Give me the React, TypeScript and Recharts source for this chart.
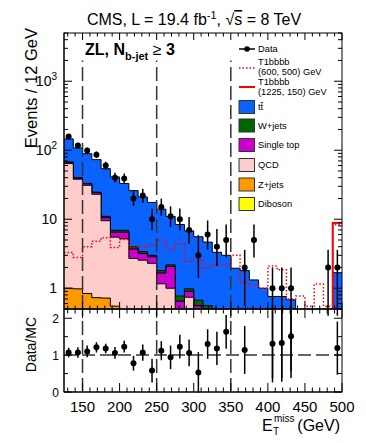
import React from "react";
import {
  ComposedChart,
  Area,
  Line,
  Scatter,
  ErrorBar,
  XAxis,
  YAxis,
  ReferenceLine,
} from "recharts";

// MET bins (low edges, 12.5 GeV wide, last edge 500)
const binLow = [
  125, 137.5, 150, 162.5, 175, 187.5, 200, 212.5, 225, 237.5, 250, 262.5, 275,
  287.5, 300, 312.5, 325, 337.5, 350, 362.5, 375, 387.5, 400, 412.5, 425,
  437.5, 450, 462.5, 475, 487.5,
];
const lastEdge = 500;

// observed events (null = empty bin)
const dataCounts = [
  158, 117, 99, 86, 60, 40, 39, 20, 22, 10, 15, 11, 10, 7, 3, 6, 4, 5, null, 2,
  5, null, 1, 1, 1, null, null, null, 2, 2,
];
const dataErrLow = [
  13, 11, 10, 9, 8, 6, 6, 4.4, 4.6, 3.1, 3.8, 3.3, 3.1, 2.6, 1.6, 2.4, 1.9, 2.2,
  null, 1.45, 2.2, null, 0.95, 0.95, 0.95, null, null, null, 1.6, 1.6,
];
const dataErrHigh = [
  13, 11, 10, 10, 8, 7, 7, 5.5, 5.7, 4.3, 4.9, 4.4, 4.3, 3.8, 2.9, 3.6, 3.2,
  3.4, null, 1.6, 3.4, null, 1.0, 1.0, 1.0, null, null, null, 1.6, 1.6,
];

// backgrounds, stacked bottom -> top
const diboson = [
  0.03, 0.03, 0.02, 0.02, 0.02, 0.02, 0.02, 0.01, 0.01, 0.01, 0.01, 0.01, 0.01,
  0.01, 0.01, 0.01, 0.01, 0.01, 0.01, 0.01, 0.01, 0.01, 0.01, 0.01, 0.01, 0.01,
  0.01, 0.01, 0.01, 0.02,
];
const zJets = [
  0.97, 0.95, 0.82, 0.71, 0.7, 0.53, 0.43, 0.39, 0.34, 0.29, 0.24, 0.19, 0.14,
  0.11, 0.09, 0.07, 0.06, 0.05, 0.04, 0.04, 0.03, 0.03, 0.02, 0.02, 0.02, 0.01,
  0.01, 0.01, 0.01, 0.03,
];
const qcd = [
  63, 37, 30.2, 22.3, 8.8, 4.95, 4.75, 2.3, 2.2, 2.0, 0.91, 0.8, 0.3, 0.62, 0.3,
  0.22, 0.18, 0.14, 0.13, 0.1, 0.08, 0.06, 0.05, 0.05, 0.04, 0.04, 0.03, 0.03,
  0.02, 0.1,
];
const singleTop = [
  3, 1.5, 1.5, 1.2, 1.0, 1.0, 1.3, 1.0, 0.65, 0.55, 0.5, 1.07, 0.2, 0.16, 0.16,
  0.15, 0.1, 0.1, 0.07, 0.07, 0.08, 0.08, 0.07, 0.05, 0.05, 0.04, 0.03, 0.02,
  0.02, 0.1,
];
const wJets = [
  0.5, 0.5, 0.5, 0.4, 0.5, 0.4, 0.4, 0.3, 0.2, 0.15, 0.14, 0.11, 0.12, 0.08,
  0.11, 0.11, 0.07, 0.05, 0.05, 0.05, 0.04, 0.02, 0.03, 0.03, 0.02, 0.02, 0.02,
  0.02, 0.02, 0.05,
];
const ttbar = [
  78.5, 68, 56, 48.4, 43, 34.1, 26.1, 22, 17.6, 14.5, 12.2, 8.8, 7.6, 5.8, 4.9,
  4.1, 2.9, 2.65, 1.65, 1.53, 1.08, 0.8, 0.58, 0.6, 0.54, 0.33, 0.3, 0.26, 0.22,
  1.38,
];

// signal models
const t1bbbb600 = [
  3.3, 2.8, 4.0, 4.8, 5.4, 3.9, 5.1, 4.0, 4.0, 4.2, 5.0, 3.6, 4.4, 2.45, 2.6,
  2.0, 2.2, 2.2, 3.0, 1.2, 1.1, 1.0, 2.1, 1.85, 0.7, 0.77, 0.55, 1.15, 0.55,
  8.3,
];
const t1bbbb1225 = [
  0.02, 0.02, 0.02, 0.03, 0.03, 0.03, 0.04, 0.04, 0.05, 0.05, 0.06, 0.06, 0.07,
  0.08, 0.08, 0.09, 0.1, 0.1, 0.12, 0.12, 0.14, 0.15, 0.16, 0.18, 0.2, 0.22,
  0.25, 0.27, 0.3, 8.8,
];

// Data/MC ratio
const ratioValues = [
  1.07, 1.07, 1.1, 1.21, 1.18, 1.06, 1.23, 0.78, 1.07, 0.58, 1.12, 0.94, 1.23,
  1.06, 0.53, 1.3, 1.18, 1.63, null, 1.14, null, null, 1.31, 1.33, 1.51, null,
  null, null, null, 1.19,
];
const ratioErr = [
  0.13, 0.14, 0.16, 0.14, 0.13, 0.16, 0.16, 0.2, 0.22, 0.32, 0.26, 0.32, 0.32,
  0.36, 0.55, 0.4, 0.45, 0.46, null, 0.65, null, null, 1.05, 1.05, 0.95, null,
  null, null, null, 0.72,
];

const xAllTicks = Array.from({ length: 38 }, (_, i) => 130 + i * 10);
const logTicks = [
  0.5, 0.6, 0.7, 0.8, 0.9, 1, 2, 3, 4, 5, 6, 7, 8, 9, 10, 20, 30, 40, 50, 60,
  70, 80, 90, 100, 200, 300, 400, 500, 600, 700, 800, 900, 1000, 2000, 3000,
  4000, 5000,
];
const ratioTicks = [0, 0.5, 1, 1.5, 2];
const cutLines = [150, 250, 350];

const colors = {
  tt: "#0a62ff",
  w: "#006600",
  st: "#cc00cc",
  qcd: "#ffcccc",
  z: "#ff9900",
  vv: "#ffff00",
  signal: "#ff0000",
};

const FONT = "'Liberation Sans', Arial, Helvetica, sans-serif";
const W = 366;
const H = 443;
const PLOT_LEFT = 64;
const PLOT_RIGHT = 342;
const TOP_Y = 33;
const SPLIT_Y = 309;
const BOTTOM_Y = 392;

const rows = binLow.map((x, i) => {
  const vv = diboson[i];
  const z = vv + zJets[i];
  const q = z + qcd[i];
  const st = q + singleTop[i];
  const w = st + wJets[i];
  const tt = w + ttbar[i];
  return { x, vv, z, q, st, w, tt, s1: t1bbbb600[i], s2: t1bbbb1225[i] };
});
rows.push({ ...rows[rows.length - 1], x: lastEdge });

const dataPoints = binLow
  .map((x, i) => ({
    x: x + 6.25,
    y: dataCounts[i],
    err: [dataErrLow[i], dataErrHigh[i]],
  }))
  .filter((p) => p.y !== null);

const ratioPoints = binLow
  .map((x, i) => ({ x: x + 6.25, y: ratioValues[i], err: ratioErr[i] }))
  .filter((p) => p.y !== null);

const TopXTick = (props: any) => {
  const { x, y, payload } = props;
  const len = payload.value % 50 === 0 ? 7 : 3.5;
  return (
    <g>
      <line x1={x} x2={x} y1={y} y2={y - len} stroke="#000" />
      <line x1={x} x2={x} y1={TOP_Y} y2={TOP_Y + len} stroke="#000" />
    </g>
  );
};

const RatioXTick = (props: any) => {
  const { x, y, payload } = props;
  const major = payload.value % 50 === 0;
  const len = major ? 9 : 4.5;
  return (
    <g>
      <line x1={x} x2={x} y1={y} y2={y - len} stroke="#000" />
      <line x1={x} x2={x} y1={SPLIT_Y} y2={SPLIT_Y + len} stroke="#000" />
      {major && (
        <text
          x={x}
          y={y + 19.5}
          textAnchor="middle"
          fontSize={15}
          fontFamily={FONT}
          fill="#000"
        >
          {payload.value}
        </text>
      )}
    </g>
  );
};

const LogYTick = (props: any) => {
  const { x, y, payload } = props;
  const v = payload.value;
  const exp = Math.round(Math.log10(v));
  const major = Math.abs(Math.log10(v) - exp) < 1e-6;
  const len = major ? 8 : 4;
  return (
    <g>
      <line x1={x} x2={x + len} y1={y} y2={y} stroke="#000" />
      <line x1={PLOT_RIGHT} x2={PLOT_RIGHT - len} y1={y} y2={y} stroke="#000" />
      {major && (
        <text
          x={x - 7}
          y={y + 5}
          textAnchor="end"
          fontSize={14}
          fontFamily={FONT}
          fill="#000"
        >
          {exp <= 1 ? (
            String(v)
          ) : (
            <>
              10
              <tspan dy={-6} fontSize={10}>
                {exp}
              </tspan>
            </>
          )}
        </text>
      )}
    </g>
  );
};

const RatioYTick = (props: any) => {
  const { x, y, payload } = props;
  const major = Number.isInteger(payload.value);
  const len = major ? 8 : 4;
  return (
    <g>
      <line x1={x} x2={x + len} y1={y} y2={y} stroke="#000" />
      <line x1={PLOT_RIGHT} x2={PLOT_RIGHT - len} y1={y} y2={y} stroke="#000" />
      {major && (
        <text
          x={x - 5}
          y={y + 4.5}
          textAnchor="end"
          fontSize={12}
          fontFamily={FONT}
          fill="#000"
        >
          {payload.value}
        </text>
      )}
    </g>
  );
};

const dot = (p: any) => <circle cx={p.cx} cy={p.cy} r={3} fill="#000" />;

const legendBoxes = [
  { label: "tt", bar: true, color: colors.tt, y: 107 },
  { label: "W+jets", color: colors.w, y: 125.5 },
  { label: "Single top", color: colors.st, y: 145 },
  { label: "QCD", color: colors.qcd, y: 165 },
  { label: "Z+jets", color: colors.z, y: 184.5 },
  { label: "Diboson", color: colors.vv, y: 204 },
];

export default function App() {
  const layers = [
    { key: "tt", color: colors.tt },
    { key: "w", color: colors.w },
    { key: "st", color: colors.st },
    { key: "q", color: colors.qcd },
    { key: "z", color: colors.z },
    { key: "vv", color: colors.vv },
  ];

  return (
    <div
      style={{
        position: "absolute",
        left: 0,
        top: 0,
        width: W,
        height: H,
        background: "#fff",
        fontFamily: FONT,
      }}
    >
      <div style={{ position: "absolute", left: 0, top: 0 }}>
        <ComposedChart
          width={W}
          height={H}
          data={rows}
          margin={{ top: TOP_Y, right: W - PLOT_RIGHT, bottom: 0, left: 0 }}
        >
          <XAxis
            dataKey="x"
            type="number"
            domain={[125, lastEdge]}
            allowDataOverflow
            ticks={xAllTicks}
            interval={0}
            tick={<TopXTick />}
            tickLine={false}
            tickSize={0}
            tickMargin={0}
            height={H - SPLIT_Y}
            axisLine={{ stroke: "#000" }}
          />
          <YAxis
            type="number"
            scale="log"
            domain={[0.5, 5000]}
            allowDataOverflow
            ticks={logTicks}
            interval={0}
            tick={<LogYTick />}
            tickLine={false}
            tickSize={0}
            tickMargin={0}
            width={PLOT_LEFT}
            axisLine={{ stroke: "#000" }}
          />
          {layers.map((l) => (
            <Area
              key={l.key}
              dataKey={l.key}
              type="stepAfter"
              baseValue={0.5}
              fill={l.color}
              fillOpacity={1}
              stroke="#000"
              strokeWidth={1}
              isAnimationActive={false}
            />
          ))}
          <Line
            dataKey="s1"
            type="stepAfter"
            stroke={colors.signal}
            strokeWidth={1.5}
            strokeDasharray="1.5 2"
            dot={false}
            isAnimationActive={false}
          />
          <Line
            dataKey="s2"
            type="stepAfter"
            stroke={colors.signal}
            strokeWidth={2}
            dot={false}
            isAnimationActive={false}
          />
          {cutLines.map((c) => (
            <ReferenceLine
              key={c}
              segment={[
                { x: c, y: 0.5 },
                { x: c, y: 2000 },
              ]}
              stroke="#333"
              strokeWidth={1.5}
              strokeDasharray="14 5"
            />
          ))}
          <Scatter
            data={dataPoints}
            dataKey="y"
            fill="#000"
            shape={dot}
            isAnimationActive={false}
          >
            <ErrorBar
              dataKey="err"
              direction="y"
              width={0}
              stroke="#000"
              strokeWidth={1.5}
              isAnimationActive={false}
            />
          </Scatter>
        </ComposedChart>
      </div>

      <div style={{ position: "absolute", left: 0, top: 0 }}>
        <ComposedChart
          width={W}
          height={H}
          data={rows}
          margin={{ top: SPLIT_Y, right: W - PLOT_RIGHT, bottom: 0, left: 0 }}
        >
          <XAxis
            dataKey="x"
            type="number"
            domain={[125, lastEdge]}
            allowDataOverflow
            ticks={xAllTicks}
            interval={0}
            tick={<RatioXTick />}
            tickLine={false}
            tickSize={0}
            tickMargin={0}
            height={H - BOTTOM_Y}
            axisLine={{ stroke: "#000" }}
          />
          <YAxis
            type="number"
            domain={[0, 2.25]}
            allowDataOverflow
            ticks={ratioTicks}
            interval={0}
            tick={<RatioYTick />}
            tickLine={false}
            tickSize={0}
            tickMargin={0}
            width={PLOT_LEFT}
            axisLine={{ stroke: "#000" }}
          />
          <ReferenceLine
            y={1}
            stroke="#333"
            strokeWidth={1.5}
            strokeDasharray="13 5"
          />
          {cutLines.map((c) => (
            <ReferenceLine
              key={c}
              x={c}
              stroke="#333"
              strokeWidth={1.5}
              strokeDasharray="14 5"
            />
          ))}
          <Scatter
            data={ratioPoints}
            dataKey="y"
            fill="#000"
            shape={dot}
            isAnimationActive={false}
          >
            <ErrorBar
              dataKey="err"
              direction="y"
              width={0}
              stroke="#000"
              strokeWidth={1.5}
              isAnimationActive={false}
            />
          </Scatter>
        </ComposedChart>
      </div>

      <svg
        width={W}
        height={H}
        style={{ position: "absolute", left: 0, top: 0, pointerEvents: "none" }}
        fontFamily={FONT}
      >
        <rect
          x={PLOT_LEFT}
          y={TOP_Y}
          width={PLOT_RIGHT - PLOT_LEFT}
          height={SPLIT_Y - TOP_Y}
          fill="none"
          stroke="#000"
        />
        <rect
          x={PLOT_LEFT}
          y={SPLIT_Y}
          width={PLOT_RIGHT - PLOT_LEFT}
          height={BOTTOM_Y - SPLIT_Y}
          fill="none"
          stroke="#000"
        />

        <text x={194} y={25} textAnchor="middle" fontSize={16} fill="#000">
          CMS, L = 19.4 fb
          <tspan dy={-6} fontSize={11}>
            -1
          </tspan>
          <tspan dy={6}>, √</tspan>
          <tspan style={{ textDecoration: "overline" }}>s</tspan>
          <tspan> = 8 TeV</tspan>
        </text>

        <text x={85} y={55} fontSize={16} fontWeight="bold" fill="#000">
          ZL, N
          <tspan dy={5} fontSize={11}>
            b-jet
          </tspan>
          <tspan dy={-5} fontWeight="normal">
            {" "}
            ≥{" "}
          </tspan>
          <tspan>3</tspan>
        </text>

        <text
          x={37}
          y={28}
          fontSize={16.5}
          textAnchor="end"
          transform="rotate(-90 37 28)"
          fill="#000"
        >
          Events / 12 GeV
        </text>
        <text
          x={36}
          y={317}
          fontSize={14}
          textAnchor="end"
          transform="rotate(-90 36 317)"
          fill="#000"
        >
          Data/MC
        </text>

        <text x={262} y={431} fontSize={16} fill="#000">
          E
        </text>
        <text x={274} y={422} fontSize={10} fill="#000">
          miss
        </text>
        <text x={273} y={435} fontSize={10} fill="#000">
          T
        </text>
        <text x={340} y={431} fontSize={16} textAnchor="end" fill="#000">
          (GeV)
        </text>

        <line x1={239} x2={255} y1={49} y2={49} stroke="#000" strokeWidth={1.5} />
        <circle cx={247} cy={49} r={2.8} fill="#000" />
        <text x={258} y={52.3} fontSize={9.3} fill="#000">
          Data
        </text>

        <line
          x1={239}
          x2={255}
          y1={68}
          y2={68}
          stroke={colors.signal}
          strokeWidth={1.5}
          strokeDasharray="1.5 2"
        />
        <text x={258} y={65} fontSize={9.3} fill="#000">
          T1bbbb
        </text>
        <text x={258} y={75} fontSize={9.3} fill="#000">
          (600, 500) GeV
        </text>
        <line
          x1={239}
          x2={255}
          y1={87}
          y2={87}
          stroke={colors.signal}
          strokeWidth={2}
        />
        <text x={258} y={85} fontSize={9.3} fill="#000">
          T1bbbb
        </text>
        <text x={258} y={95} fontSize={9.3} fill="#000">
          (1225, 150) GeV
        </text>

        {legendBoxes.map((b) => (
          <g key={b.label}>
            <rect
              x={239}
              y={b.y - 6.5}
              width={15.5}
              height={13}
              fill={b.color}
              stroke="#333"
              strokeWidth={1}
            />
            <text x={258} y={b.y + 3.3} fontSize={9.3} fill="#000">
              {b.bar ? (
                <>
                  t<tspan style={{ textDecoration: "overline" }}>t</tspan>
                </>
              ) : (
                b.label
              )}
            </text>
          </g>
        ))}
      </svg>
    </div>
  );
}
